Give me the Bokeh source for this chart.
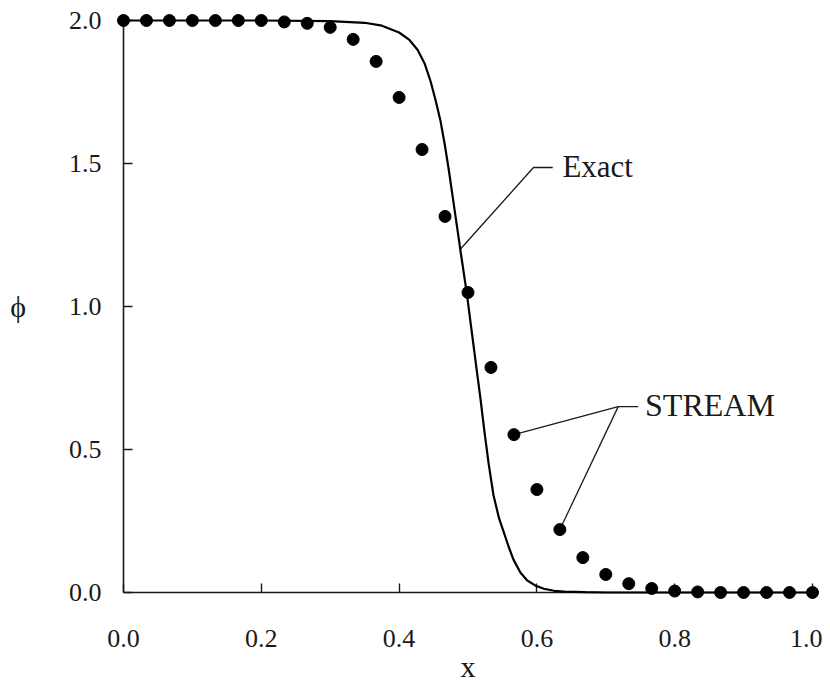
import numpy as np
from bokeh.plotting import figure
from bokeh.models import Range1d, Label, FixedTicker
from bokeh.embed import file_html
from bokeh.resources import INLINE

# ---- data ----
stream_x = [i / 30 for i in range(31)]
stream_y = [2.0, 2.0, 2.0, 2.0, 2.0, 2.0, 2.0, 1.995, 1.99, 1.976,
            1.934, 1.857, 1.731, 1.549, 1.315, 1.049, 0.787, 0.552, 0.360, 0.220,
            0.122, 0.063, 0.031, 0.014, 0.005, 0.002, 0.0, 0.0, 0.0, 0.0, 0.0]

exact_x = [0.00, 0.20, 0.30, 0.35, 0.375, 0.40, 0.415, 0.427, 0.437, 0.446,
           0.453, 0.460, 0.466, 0.472, 0.478, 0.484, 0.490, 0.498, 0.505, 0.512,
           0.518, 0.524, 0.530, 0.537, 0.545, 0.552, 0.559, 0.566, 0.576, 0.586,
           0.598, 0.610, 0.625, 0.640, 0.670, 0.700, 1.000]
exact_y = [2.000, 2.000, 1.998, 1.992, 1.982, 1.958, 1.932, 1.897, 1.850, 1.785,
           1.720, 1.650, 1.570, 1.480, 1.380, 1.280, 1.180, 1.050, 0.920, 0.790,
           0.680, 0.560, 0.450, 0.340, 0.260, 0.210, 0.160, 0.115, 0.070, 0.042,
           0.024, 0.013, 0.006, 0.003, 0.001, 0.0, 0.0]

x_ticks = [0.0, 0.2, 0.4, 0.6, 0.8, 1.0]
x_tick_labels = ["0.0", "0.2", "0.4", "0.6", "0.8", "1.0"]
y_ticks = [0.0, 0.5, 1.0, 1.5, 2.0]
y_tick_labels = ["0.0", "0.5", "1.0", "1.5", "2.0"]

FONT = "Liberation Serif"
INK = "#1a1a1a"

p = figure(frame_width=689, frame_height=572,
           x_range=Range1d(0, 1), y_range=Range1d(0, 2),
           output_backend="svg", toolbar_location=None,
           min_border_left=123, min_border_right=10,
           min_border_top=20, min_border_bottom=88)
p.outline_line_color = None
p.grid.grid_line_color = None
p.background_fill_color = "white"
p.border_fill_color = "white"

for ax, ticks, labels in ((p.xaxis, x_ticks, x_tick_labels), (p.yaxis, y_ticks, y_tick_labels)):
    ax.ticker = FixedTicker(ticks=ticks)
    ax.major_label_overrides = {t: l for t, l in zip(ticks, labels)}
    ax.axis_line_color = INK
    ax.axis_line_width = 1.6
    ax.major_tick_line_color = INK
    ax.major_tick_line_width = 1.4
    ax.major_tick_in = 9
    ax.major_tick_out = 0
    ax.minor_tick_line_color = None
    ax.major_label_text_font = FONT
    ax.major_label_text_font_size = "26px"
    ax.major_label_text_color = INK
    ax.axis_label_text_font = FONT
    ax.axis_label_text_font_size = "30px"
    ax.axis_label_text_font_style = "normal"
    ax.axis_label_text_color = INK

p.xaxis.major_label_standoff = 37
p.yaxis.major_label_standoff = 22
p.xaxis.axis_label = "x"
p.xaxis.axis_label_standoff = 0
p.yaxis.axis_label = "\u03d5"
p.yaxis.axis_label_orientation = "horizontal"
p.yaxis.axis_label_standoff = 40

# exact curve and STREAM points
p.line(exact_x, exact_y, line_color="black", line_width=2.2, level="overlay")
p.scatter(stream_x, stream_y, size=12, marker="circle",
          fill_color="black", line_color="black", level="overlay")

# leader lines and labels
xs_e = float(np.interp(1.2, exact_y[::-1], exact_x[::-1]))
p.line([xs_e, 0.595, 0.623], [1.2, 1.486, 1.486], line_color=INK, line_width=1.3)
p.add_layout(Label(x=0.637, y=1.49, text="Exact", text_font=FONT, text_font_size="31px",
                   text_color=INK, text_align="left", text_baseline="middle"))

s17 = (stream_x[17], stream_y[17])
s19 = (stream_x[19], stream_y[19])
p.line([s17[0], 0.718, 0.747], [s17[1], 0.650, 0.650], line_color=INK, line_width=1.3)
p.line([0.718, s19[0]], [0.650, s19[1]], line_color=INK, line_width=1.3)
p.add_layout(Label(x=0.757, y=0.657, text="STREAM", text_font=FONT, text_font_size="32px",
                   text_color=INK, text_align="left", text_baseline="middle"))

open("out.html", "w").write(file_html(p, INLINE))
